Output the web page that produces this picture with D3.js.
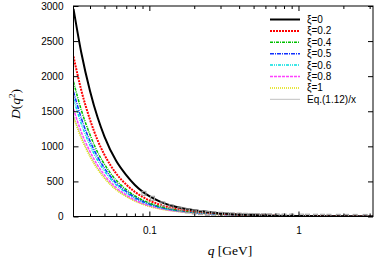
<!DOCTYPE html>
<html><head><meta charset="utf-8">
<script src="https://cdn.jsdelivr.net/npm/d3@7"></script>
<style>body{margin:0;background:#fff}svg{display:block}</style>
</head><body>
<svg id="c" width="381" height="261"></svg>
<script>
const qs = [0.031,0.035,0.04,0.045,0.05,0.06,0.07,0.08,0.09,0.1,0.12,0.15,0.2,0.25,0.3,0.4,0.5,0.7,1,1.5,2,3.16];
const xi0  = [2960,2330,1790,1410,1140,790,590,450,355,290,205,140,90,65,48,30,20,11,6,3,2,1];
const xi02 = [2280,1795,1380,1085,880,610,455,350,280,228,163,113,74,54,40,25,17,9,5,2.5,1.7,0.9];
const xi04 = [1920,1515,1165,915,745,515,385,295,235,192,138,96,64,47,35,22,15,8,4.5,2.3,1.5,0.8];
const xi05 = [1780,1400,1075,850,690,478,358,275,218,179,129,90,60,44,33,21,14,7.6,4.3,2.2,1.4,0.8];
const xi06 = [1680,1320,1015,800,650,450,338,260,206,169,122,85,57,42,31,20,13,7.3,4.1,2.1,1.4,0.7];
const xi08 = [1530,1200,925,730,590,410,308,237,188,155,112,78,52,39,29,18.5,12,6.8,3.8,2,1.3,0.7];
const xi1  = [1410,1110,855,672,545,378,284,219,174,143,104,73,49,36,27,17,11.5,6.4,3.6,1.9,1.2,0.6];
const eqx  = [1440,1135,872,688,558,388,292,225,179,147,107,75,50,37,28,17.5,11.8,6.5,3.7,1.9,1.2,0.6];
const sqQ = [0.092,0.105,0.123,0.14,0.16,0.18,0.2,0.22,0.245,0.27,0.3,0.33,0.36,0.4,0.44,0.48,0.53,0.58,0.64,0.72,0.8,0.9,1.05,1.15,1.3,1.45,1.6,1.85,2.1,2.4,2.8];
const sqD = [330,260,180,140,105,80,65,55,45,38,32,27,24,20,17,15,13,11,10,8,7,6,5,4.5,4,3.5,3,2.5,2,2,1.5];
const legendLabels = ["ξ=0","ξ=0.2","ξ=0.4","ξ=0.5","ξ=0.6","ξ=0.8","ξ=1","Eq.(1.12)/x"];
const yTicks = [0,500,1000,1500,2000,2500,3000];
const xMajor = [0.1,1];
const xMinor = [0.04,0.05,0.06,0.07,0.08,0.09,0.2,0.3,0.4,0.5,0.6,0.7,0.8,0.9,2,3];

const series = [
  {v:xi0,  c:"#000000", w:2,   d:null},
  {v:xi02, c:"#ff0000", w:2,   d:"2,1"},
  {v:xi04, c:"#00c000", w:1.5, d:"3,1,1,1"},
  {v:xi05, c:"#1030ff", w:1.5, d:"4,1,1,1"},
  {v:xi06, c:"#00e0e0", w:1.5, d:"3,1,1,1,1,1"},
  {v:xi08, c:"#ff40ff", w:1.5, d:"3,1"},
  {v:xi1,  c:"#e0e000", w:1.5, d:"1,1"},
  {v:eqx,  c:"#c0c0c0", w:1,   d:null}
];

const L=73.5, R=373, T=6, B=216.5;
const svg = d3.select("#c");
const x = d3.scaleLog().domain([0.031,3.16]).range([L,R]);
const y = d3.scaleLinear().domain([0,3000]).range([B,T]);

const clip = svg.append("defs").append("clipPath").attr("id","cp");
clip.append("rect").attr("x",L).attr("y",T).attr("width",R-L).attr("height",B-T);
const g = svg.append("g").attr("clip-path","url(#cp)");

const line = d3.line().x(d=>x(d[0])).y(d=>y(d[1])).curve(d3.curveMonotoneX);
series.slice().reverse().forEach(s=>{
  g.append("path").attr("d",line(qs.map((q,i)=>[q,s.v[i]])))
   .attr("fill","none").attr("stroke",s.c).attr("stroke-width",s.w)
   .attr("stroke-dasharray",s.d);
});
g.selectAll("rect.sq").data(sqQ.map((q,i)=>[q,sqD[i]])).enter().append("rect")
  .attr("x",d=>x(d[0])-2).attr("y",d=>y(d[1])-2).attr("width",4).attr("height",4)
  .attr("fill","none").attr("stroke","#a0a0a0").attr("stroke-width",1);

// axes
const font = "'Liberation Sans', Arial, sans-serif";
const axL = d3.axisLeft(y).tickValues(yTicks).tickFormat(d3.format("d")).tickSizeInner(-5).tickSizeOuter(0).tickPadding(10);
const gL = svg.append("g").attr("transform",`translate(${L},0)`).call(axL);
const axR = d3.axisRight(y).tickValues(yTicks).tickSizeInner(-5).tickSizeOuter(0).tickFormat("");
const gR = svg.append("g").attr("transform",`translate(${R},0)`).call(axR);
const axB = d3.axisBottom(x).tickValues(xMajor).tickFormat(d3.format("")).tickSizeInner(-5).tickSizeOuter(0).tickPadding(10);
const gB = svg.append("g").attr("transform",`translate(0,${B})`).call(axB);
const axBm = d3.axisBottom(x).tickValues(xMinor).tickFormat("").tickSizeInner(-3).tickSizeOuter(0);
const gBm = svg.append("g").attr("transform",`translate(0,${B})`).call(axBm);
const axT = d3.axisTop(x).tickValues(xMajor).tickFormat("").tickSizeInner(-5).tickSizeOuter(0);
const gT = svg.append("g").attr("transform",`translate(0,${T})`).call(axT);
const axTm = d3.axisTop(x).tickValues(xMinor).tickFormat("").tickSizeInner(-3).tickSizeOuter(0);
const gTm = svg.append("g").attr("transform",`translate(0,${T})`).call(axTm);
[gL,gR,gB,gBm,gT,gTm].forEach(a=>{
  a.select(".domain").remove();
  a.selectAll("line").attr("stroke","#000").attr("stroke-width",1);
  a.selectAll("text").attr("font-family",font).attr("font-size","10px").attr("fill","#000");
});
svg.append("rect").attr("x",L).attr("y",T).attr("width",R-L).attr("height",B-T)
  .attr("fill","none").attr("stroke","#000").attr("stroke-width",1);

// legend
const lg = svg.append("g");
legendLabels.forEach((t,i)=>{
  const yy = 19.5 + i*11.4;
  const s = series[i];
  lg.append("line").attr("x1",270).attr("x2",300).attr("y1",yy).attr("y2",yy)
    .attr("stroke",s.c).attr("stroke-width",s.w).attr("stroke-dasharray",s.d);
  lg.append("text").attr("x",307).attr("y",yy+3.5).text(t)
    .attr("font-family",font).attr("font-size","10px");
});

// axis labels
const serif = "'Liberation Serif','DejaVu Serif',serif";
const yl = svg.append("text").attr("transform","translate(20,104) rotate(-90)")
  .attr("text-anchor","middle").attr("font-family",serif).attr("font-size","13.5px");
yl.append("tspan").attr("font-style","italic").text("D");
yl.append("tspan").text("(");
yl.append("tspan").attr("font-style","italic").text("q");
yl.append("tspan").attr("font-size","9px").attr("dy",-5).text("2");
yl.append("tspan").attr("dy",5).text(")");
const xl = svg.append("text").attr("x",230).attr("y",255)
  .attr("text-anchor","middle").attr("font-family",serif).attr("font-size","13.5px");
xl.append("tspan").attr("font-style","italic").text("q");
xl.append("tspan").text(" [GeV]");
</script>
</body></html>
